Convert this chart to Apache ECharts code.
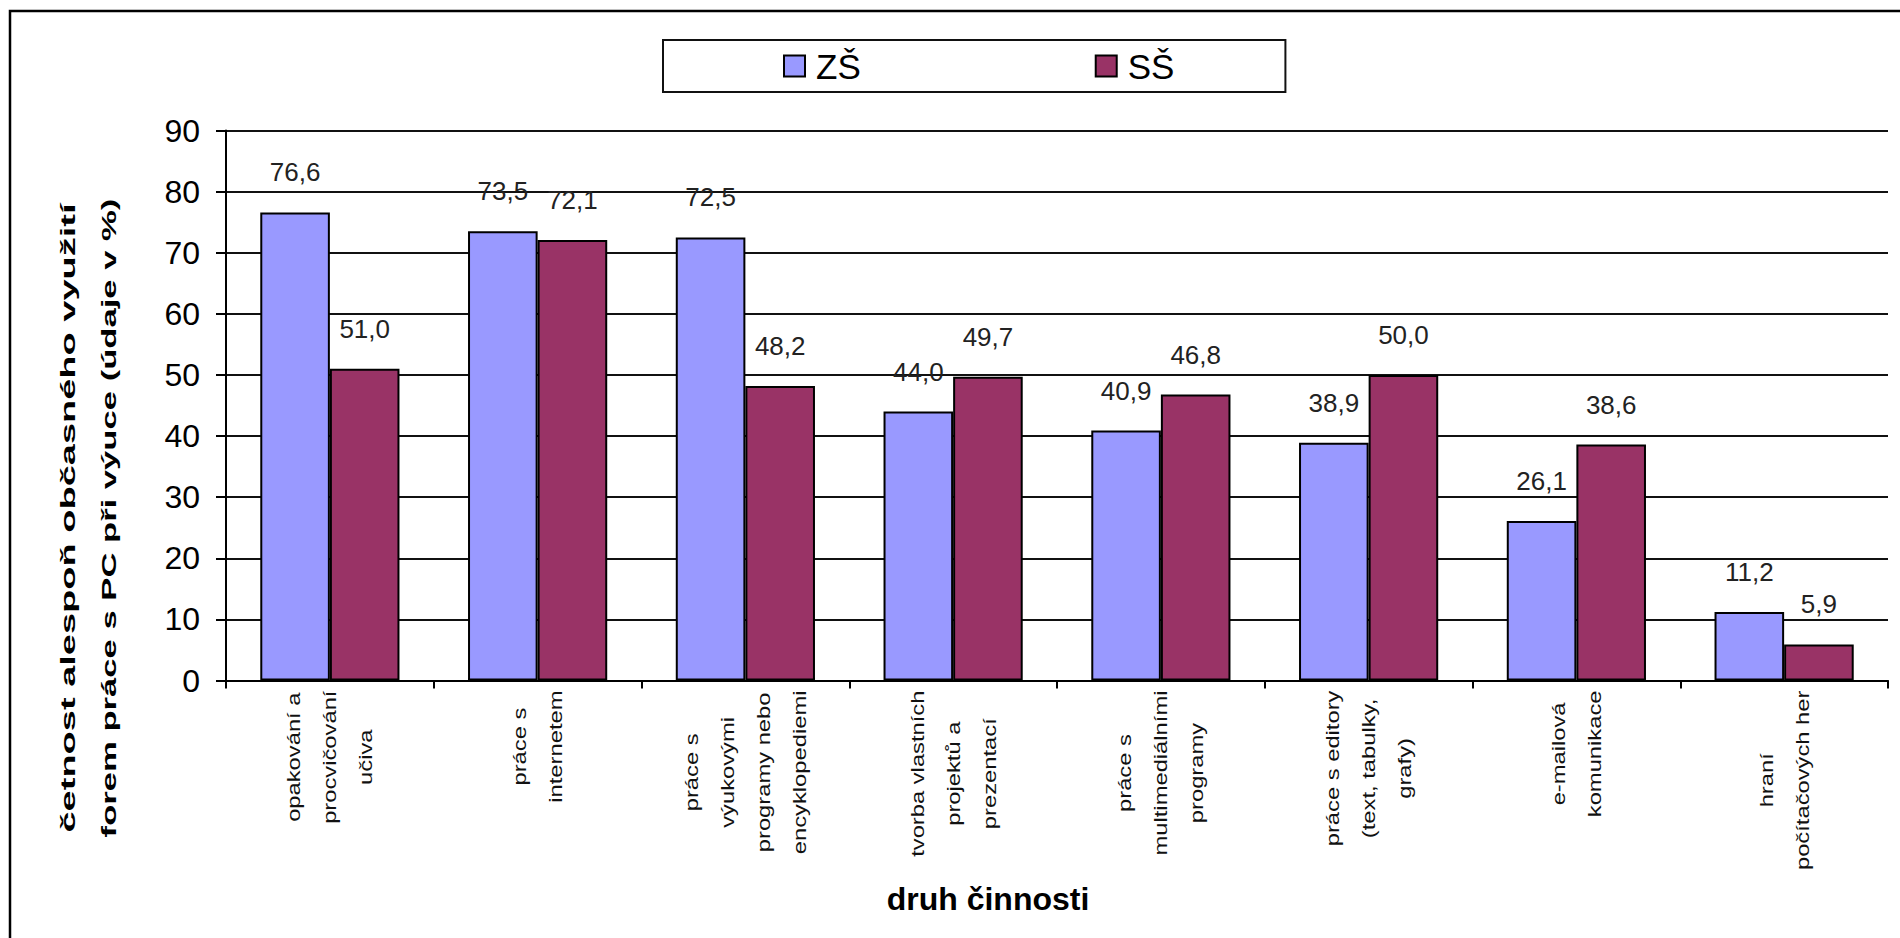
<!DOCTYPE html>
<html>
<head>
<meta charset="utf-8">
<script src="https://cdn.jsdelivr.net/npm/echarts@6/dist/echarts.min.js"></script>
<style>
  html, body { margin: 0; padding: 0; background: #fff; }
  #chart { width: 1900px; height: 938px; }
</style>
</head>
<body>
<div id="chart"></div>
<script>
// Activity categories (line breaks as printed under the axis)
const categories = [
  'opakování a\nprocvičování\nučiva',
  'práce s\ninternetem',
  'práce s\nvýukovými\nprogramy nebo\nencyklopediemi',
  'tvorba vlastních\nprojektů a\nprezentací',
  'práce s\nmultimediálními\nprogramy',
  'práce s editory\n(text, tabulky,\ngrafy)',
  'e-mailová\nkomunikace',
  'hraní\npočítačových her'
];

// Share of teachers using each form at least occasionally (%)
const seriesNames = ['ZŠ', 'SŠ'];
const valuesZS = [76.6, 73.5, 72.5, 44.0, 40.9, 38.9, 26.1, 11.2];
const valuesSS = [51.0, 72.1, 48.2, 49.7, 46.8, 50.0, 38.6, 5.9];

const yTicks = { min: 0, max: 90, interval: 10 };
const yTitleLines = ['četnost alespoň občasného využití', 'forem práce s PC při výuce (údaje v %)'];
const xTitle = 'druh činnosti';

const FONT = '"Liberation Sans", Arial, sans-serif';
const colors = ['#9999FF', '#993366'];

const fmt = v => v.toFixed(1).replace('.', ',');

const chart = echarts.init(document.getElementById('chart'), null, { renderer: 'svg' });

const barLabel = {
  show: true,
  position: 'top',
  distance: 27,
  fontFamily: FONT,
  fontSize: 26,
  lineHeight: 26,
  color: '#222',
  formatter: p => fmt(p.value)
};

// Rotated bold axis title line (reads bottom to top)
const yTitleLine = (id, text, x, stretch) => ({
  id,
  type: 'text',
  x,
  y: 518,
  rotation: Math.PI / 2,
  scaleX: stretch,
  style: {
    text,
    align: 'center',
    verticalAlign: 'middle',
    fontFamily: FONT,
    fontWeight: 'bold',
    fontSize: 21,
    fill: '#000'
  }
});

const option = {
  animation: false,
  backgroundColor: '#fff',
  color: colors,
  textStyle: { fontFamily: FONT },
  legend: {
    left: 663,
    top: 40,
    padding: [6, 111, 6, 120],
    itemGap: 234,
    itemWidth: 21,
    itemHeight: 21,
    icon: 'rect',
    borderColor: '#111',
    borderWidth: 2,
    textStyle: { fontFamily: FONT, fontSize: 35, lineHeight: 40, color: '#000', padding: [0, 0, 0, 6] }
  },
  grid: { left: 226, right: 12, top: 130.5, bottom: 257.5, containLabel: false },
  xAxis: {
    type: 'category',
    data: categories,
    axisLine: { show: true, lineStyle: { color: '#000', width: 2 } },
    axisTick: { show: true, length: 8, lineStyle: { color: '#000', width: 2 } },
    axisLabel: { show: false },
    splitLine: { show: false }
  },
  yAxis: {
    type: 'value',
    min: yTicks.min,
    max: yTicks.max,
    interval: yTicks.interval,
    axisLine: { show: true, lineStyle: { color: '#000', width: 2 } },
    axisTick: { show: true, length: 10, lineStyle: { color: '#000', width: 2 } },
    axisLabel: { fontFamily: FONT, fontSize: 32, color: '#000', margin: 26 },
    splitLine: { show: true, lineStyle: { color: '#111', width: 2 } }
  },
  series: [
    {
      name: seriesNames[0],
      type: 'bar',
      data: valuesZS,
      barGap: '0%',
      barCategoryGap: '33%',
      itemStyle: { color: colors[0], borderColor: '#000', borderWidth: 2 },
      label: barLabel
    },
    {
      name: seriesNames[1],
      type: 'bar',
      data: valuesSS,
      barGap: '0%',
      barCategoryGap: '33%',
      itemStyle: { color: colors[1], borderColor: '#000', borderWidth: 2 },
      label: barLabel
    }
  ],
  graphic: [
    {
      id: 'frame',
      type: 'rect',
      silent: true,
      shape: { x: 10, y: 11, width: 1900, height: 1000 },
      style: { fill: 'none', stroke: '#000', lineWidth: 2.5 }
    },
    yTitleLine('yTitle1', yTitleLines[0], 68, 1.81),
    yTitleLine('yTitle2', yTitleLines[1], 109, 1.65),
    {
      id: 'xTitle',
      type: 'text',
      x: 988,
      y: 899,
      style: {
        text: xTitle,
        align: 'center',
        verticalAlign: 'middle',
        fontFamily: FONT,
        fontWeight: 'bold',
        fontSize: 32,
        fill: '#000'
      }
    }
  ]
};

chart.setOption(option);

// Category labels: rotated, lines centred, hanging just below the axis
const axisY = chart.convertToPixel({ yAxisIndex: 0 }, 0);
const catLabels = categories.map((c, i) => ({
  id: 'cat' + i,
  type: 'text',
  x: chart.convertToPixel({ xAxisIndex: 0 }, i),
  y: axisY + 10,
  rotation: Math.PI / 2,
  scaleX: 1.32,
  style: {
    text: c.split('\n').map(l => '{c|' + l + '}').join('\n'),
    align: 'right',
    verticalAlign: 'middle',
    rich: { c: { align: 'center', fontFamily: FONT, fontSize: 18, lineHeight: 36, fill: '#111' } }
  }
}));
chart.setOption({ graphic: catLabels });
</script>
</body>
</html>
